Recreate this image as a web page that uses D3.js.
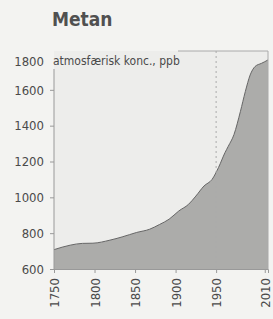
<!DOCTYPE html>
<html>
<meta charset="utf-8">
<style>
body {
  margin: 0;
  background-color: #f3f3f1;
}
svg {
  display: block;
}
text {
  font-family: 'DejaVu Sans Condensed', 'Liberation Sans Narrow', 'Liberation Sans', sans-serif;
  font-stretch: condensed;
  fill: #4a4a4a;
}
text.title {
  font-size: 19px;
  font-weight: bold;
  fill: #505050;
}
.axis text {
  font-size: 13px;
}
.axis path, .axis line {
  stroke: #999;
}
</style>
<body>
<svg width="273" height="319"></svg>
<script src="https://cdnjs.cloudflare.com/ajax/libs/d3/7.8.5/d3.min.js"></script>
<script>

var years = [1750, 1770, 1785, 1798, 1819, 1834, 1852, 1868, 1880, 1892, 1904, 1916, 1925, 1935, 1945, 1953, 1961, 1965, 1972, 1980, 1986, 1992, 1998, 2006, 2010, 2014];
var methane = [708, 733, 743, 744, 761, 779, 804, 822, 848, 878, 924, 961, 1007, 1063, 1100, 1167, 1250, 1285, 1350, 1480, 1590, 1683, 1730, 1748, 1757, 1767];
var yTicks = [600, 800, 1000, 1200, 1400, 1600, 1800];
var xTicks = [1750, 1800, 1850, 1900, 1950, 2010];

var svg = d3.select("svg");

var x = d3.scaleLinear().domain([1750, 2014]).range([54, 268]);
var y = d3.scaleLinear().domain([600, 1800]).range([269, 54]);

var data = years.map(function(d, i) {
  return { year: d, value: methane[i] };
});

var yTop = 51;

// plot background
svg.append("rect")
  .attr("x", x(1750)).attr("y", yTop)
  .attr("width", x(2014) - x(1750)).attr("height", y(600) - yTop)
  .attr("fill", "#ededeb");

var area = d3.area()
  .x(function(d) { return x(d.year); })
  .y0(y(600))
  .y1(function(d) { return y(d.value); })
  .curve(d3.curveMonotoneX);

svg.append("path")
  .datum(data)
  .attr("d", area)
  .attr("fill", "#acacaa");

svg.append("path")
  .datum(data)
  .attr("d", area.lineY1())
  .attr("fill", "none")
  .attr("stroke", "#666")
  .attr("stroke-width", 1);

// 1950 marker
svg.append("line")
  .attr("x1", x(1950)).attr("x2", x(1950))
  .attr("y1", yTop).attr("y2", y(600))
  .attr("stroke", "#aaa")
  .attr("stroke-dasharray", "2 3");

// frame top and right
svg.append("line")
  .attr("x1", 178).attr("x2", x(2014))
  .attr("y1", yTop).attr("y2", yTop)
  .attr("stroke", "#aaa");
svg.append("line")
  .attr("x1", x(2014)).attr("x2", x(2014))
  .attr("y1", yTop).attr("y2", y(600))
  .attr("stroke", "#aaa");

var yAxis = svg.append("g")
  .attr("class", "axis")
  .attr("transform", "translate(" + x(1750) + ",0)")
  .call(d3.axisLeft(y).tickValues(yTicks).tickFormat(d3.format("d")).tickSize(4).tickPadding(6));
yAxis.select(".domain").attr("d", "M0,69V" + y(600));
var top1800 = yAxis.selectAll(".tick").filter(function(d) { return d == 1800; });
top1800.select("line").remove();
top1800.select("text").attr("y", 7);

var xAxis = svg.append("g")
  .attr("class", "axis")
  .attr("transform", "translate(0," + y(600) + ")")
  .call(d3.axisBottom(x).tickValues(xTicks).tickFormat(d3.format("d")).tickSize(4));
xAxis.selectAll("text")
  .attr("transform", "rotate(-90)")
  .attr("text-anchor", "end")
  .attr("x", -9)
  .attr("y", 0)
  .attr("dy", "0.35em");

svg.append("text")
  .attr("class", "title")
  .attr("x", 52)
  .attr("y", 26)
  .text("Metan");

svg.append("text")
  .attr("x", 53)
  .attr("y", 65)
  .style("font-size", "12px")
  .text("atmosfærisk konc., ppb");

</script>
</body>
</html>
